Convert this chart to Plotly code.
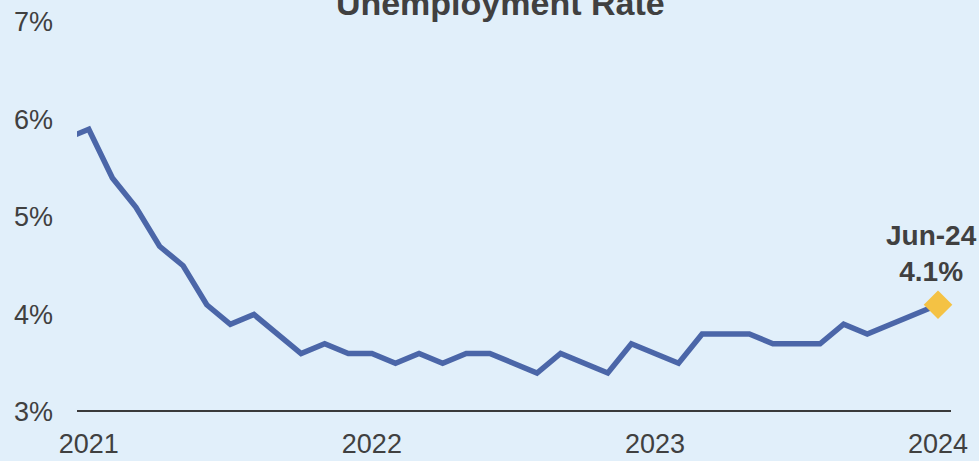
import plotly.graph_objects as go

# Monthly US unemployment rate, May 2021 through Jun 2024 (percent)
months = [
    "May-21", "Jun-21", "Jul-21", "Aug-21", "Sep-21", "Oct-21", "Nov-21", "Dec-21",
    "Jan-22", "Feb-22", "Mar-22", "Apr-22", "May-22", "Jun-22", "Jul-22", "Aug-22",
    "Sep-22", "Oct-22", "Nov-22", "Dec-22", "Jan-23", "Feb-23", "Mar-23", "Apr-23",
    "May-23", "Jun-23", "Jul-23", "Aug-23", "Sep-23", "Oct-23", "Nov-23", "Dec-23",
    "Jan-24", "Feb-24", "Mar-24", "Apr-24", "May-24", "Jun-24",
]
rates = [
    5.8, 5.9, 5.4, 5.1, 4.7, 4.5, 4.1, 3.9,
    4.0, 3.8, 3.6, 3.7, 3.6, 3.6, 3.5, 3.6,
    3.5, 3.6, 3.6, 3.5, 3.4, 3.6, 3.5, 3.4,
    3.7, 3.6, 3.5, 3.8, 3.8, 3.8, 3.7, 3.7,
    3.7, 3.9, 3.8, 3.9, 4.0, 4.1,
]
year_ticks = ["Jun-21", "Jun-22", "Jun-23", "Jun-24"]
year_labels = ["2021", "2022", "2023", "2024"]
y_ticks = [3, 4, 5, 6, 7]
y_labels = [f"{v}%" for v in y_ticks]

idx = list(range(len(months)))
tick_pos = [months.index(m) for m in year_ticks]
last = len(months) - 1

TEXT = "#404040"
FONT = "Liberation Sans, Arial, sans-serif"
BG = "#E1EFFA"

fig = go.Figure()
fig.add_trace(go.Scatter(
    x=idx, y=rates, mode="lines",
    line=dict(color="#4B66A8", width=5.5),
    hoverinfo="skip", showlegend=False,
))
fig.add_trace(go.Scatter(
    x=[idx[last]], y=[rates[last]], mode="markers",
    marker=dict(symbol="diamond", size=22, color="#F4C244"),
    cliponaxis=False, hoverinfo="skip", showlegend=False,
))

fig.add_shape(type="line", xref="paper", x0=0, x1=1, yref="y", y0=3, y1=3,
              line=dict(color="#3A3A3A", width=4))

fig.add_annotation(
    x=idx[last], y=rates[last], xref="x", yref="y",
    text=f"<b>{months[last]}<br>{rates[last]:.1f}%</b>",
    showarrow=False, xanchor="center", yanchor="bottom",
    xshift=-7, yshift=16,
    font=dict(family=FONT, size=28, color=TEXT),
)

fig.update_layout(
    width=979, height=461,
    margin=dict(l=77, r=28, t=22, b=49),
    paper_bgcolor=BG, plot_bgcolor=BG,
    font=dict(family=FONT, color=TEXT),
    title=dict(
        text="<b>Unemployment Rate</b>",
        x=0.511, xref="container", xanchor="center",
        y=0.9935, yref="container", yanchor="middle",
        font=dict(family=FONT, size=34, color=TEXT),
    ),
    xaxis=dict(
        range=[0.5, last + 0.55],
        tickmode="array", tickvals=tick_pos, ticktext=year_labels,
        showgrid=False, zeroline=False, showline=False, ticks="",
        ticklabelstandoff=13, automargin=False,
        tickfont=dict(size=27, color=TEXT),
    ),
    yaxis=dict(
        range=[3, 7],
        tickmode="array", tickvals=y_ticks, ticktext=y_labels,
        showgrid=False, zeroline=False, showline=False, ticks="",
        ticklabelstandoff=23, automargin=False,
        tickfont=dict(size=27, color=TEXT),
    ),
)

fig.write_html("out.html")
